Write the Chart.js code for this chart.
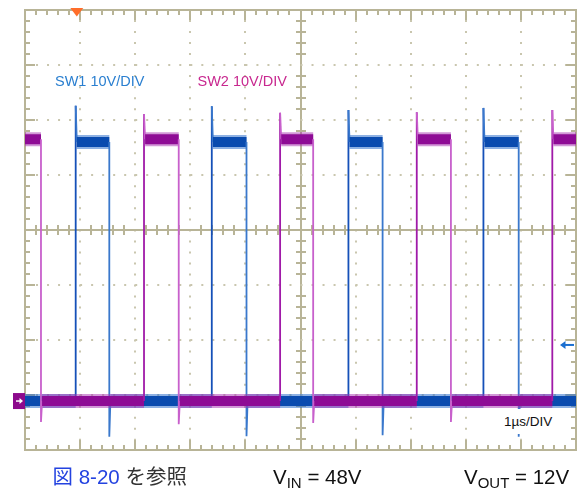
<!DOCTYPE html>
<html><head><meta charset="utf-8">
<script src="https://cdn.jsdelivr.net/npm/chart.js@4.4.1/dist/chart.umd.min.js"></script>
<style>
html,body{margin:0;padding:0;background:#fff;}
#wrap{position:relative;width:582px;height:489px;overflow:hidden;font-family:"Liberation Sans",Arial,sans-serif;}
#c{position:absolute;left:0;top:0;}
.lbl{position:absolute;white-space:nowrap;line-height:1;}
.sub{font-size:15px;vertical-align:-3.5px;}
</style></head><body>
<div id="wrap">
<canvas id="c" width="582" height="489"></canvas>
<div class="lbl" style="left:55px;top:74px;font-size:14.5px;color:#2a7fd0">SW1 10V/DIV</div>
<div class="lbl" style="left:197.5px;top:74px;font-size:14.5px;color:#c8288f">SW2 10V/DIV</div>
<div class="lbl" style="left:500px;top:409px;width:60px;height:25px;background:#fff;"></div>
<div class="lbl" style="left:504px;top:415px;font-size:13.5px;color:#111">1µs/DIV</div>
<div class="lbl" style="left:52.5px;top:466.5px;font-size:20.5px;font-family:'Liberation Sans','Noto Sans CJK JP',sans-serif;"><span style="color:#2443e0">図 8-20</span> <span style="color:#333">を参照</span></div>
<div class="lbl" style="left:273px;top:466.5px;font-size:20.5px;color:#111">V<span class="sub">IN</span> = 48V</div>
<div class="lbl" style="left:464px;top:466.5px;font-size:20.5px;color:#111">V<span class="sub">OUT</span> = 12V</div>
</div>
<script>
// time in microseconds (1 µs/div), voltage in volts (10 V/div)
const sw1T = [0, 0.92, 0.92, 0.94, 1.53, 1.53, 1.55, 3.39, 3.39, 3.41, 4.02, 4.02, 4.04, 5.87, 5.87, 5.89, 6.49, 6.49, 6.51, 8.32, 8.32, 8.34, 8.96, 8.96, 8.98, 10];
const sw1V = [0, 0, 53.7, 47.1, 47.1, -6.5, 0, 0, 53.6, 47.1, 47.1, -6.4, 0, 0, 52.9, 47.1, 47.1, -6.2, 0, 0, 53.3, 47.1, 47.1, -6.5, 0, 0];
const sw2T = [0, 0.29, 0.29, 0.31, 2.16, 2.16, 2.18, 2.79, 2.79, 2.81, 4.63, 4.63, 4.65, 5.23, 5.23, 5.25, 7.11, 7.11, 7.13, 7.73, 7.73, 7.75, 9.57, 9.57, 9.59, 10];
const sw2V = [47.6, 47.6, -3.8, 0, 0, 52.2, 47.6, 47.6, -4.2, 0, 0, 52.4, 47.6, 47.6, -4.0, 0, 0, 52.5, 47.6, 47.6, -3.8, 0, 0, 52.9, 47.6, 47.6];
const timeDivs = [0, 10];      // µs range of the screen
const voltRange = [-8.9, 71.1]; // volts range of the screen (ground 0.89 div above bottom)
const vertDivs = [0, 8];
const triggerT = 0.94;
const trigLevelV = 10.2;

const toPts = (t, v) => t.map((x, i) => ({x: x, y: v[i]}));
const isEdge = c => Math.abs(c.p1.parsed.x - c.p0.parsed.x) < 0.05;
const isRise = c => c.p1.parsed.y > c.p0.parsed.y + 10;

const tan = '#b8b497', dot = '#c9c6ae';

const graticule = {
  id: 'graticule',
  beforeDatasetsDraw(chart) {
    const {ctx, chartArea: a, scales} = chart;
    const x = scales.x, y = scales.y;
    const cx = Math.round(x.getPixelForValue(5)), cy = Math.round(y.getPixelForValue(4));
    ctx.save();
    ctx.strokeStyle = tan; ctx.lineWidth = 2;
    ctx.beginPath();
    for (let i = 1; i < 50; i++) {
      const px = Math.round(x.getPixelForValue(i / 5));
      const major = i % 5 === 0, L = major ? 10 : 5;
      ctx.moveTo(px, a.top); ctx.lineTo(px, a.top + L);
      ctx.moveTo(px, a.bottom); ctx.lineTo(px, a.bottom - L);
      if (!major) { ctx.moveTo(px, cy - 5); ctx.lineTo(px, cy + 5); }
    }
    for (let i = 1; i < 40; i++) {
      const py = Math.round(y.getPixelForValue(i / 5));
      const major = i % 5 === 0, L = major ? 10 : 5;
      ctx.moveTo(a.left, py); ctx.lineTo(a.left + L, py);
      ctx.moveTo(a.right, py); ctx.lineTo(a.right - L, py);
      if (!major) { ctx.moveTo(cx - 5, py); ctx.lineTo(cx + 5, py); }
    }
    ctx.stroke();
    ctx.restore();
  },
  afterDatasetsDraw(chart) {
    const {ctx, chartArea: a, scales} = chart;
    ctx.save();
    // trigger position marker (orange)
    const tx = scales.x.getPixelForValue(triggerT);
    ctx.fillStyle = '#ff6d2a';
    ctx.beginPath();
    ctx.moveTo(tx - 6.5, a.top - 2); ctx.lineTo(tx + 6.5, a.top - 2); ctx.lineTo(tx, a.top + 6.5); ctx.closePath();
    ctx.fill();
    // ground marker (CH2 purple)
    const gy = scales.v.getPixelForValue(0);
    ctx.fillStyle = '#8c0a8c';
    ctx.fillRect(a.left - 12, gy - 8, 12, 16);
    ctx.strokeStyle = '#fff'; ctx.fillStyle = '#fff'; ctx.lineWidth = 1.5;
    ctx.beginPath(); ctx.moveTo(a.left - 9, gy); ctx.lineTo(a.left - 4, gy); ctx.stroke();
    ctx.beginPath(); ctx.moveTo(a.left - 2, gy); ctx.lineTo(a.left - 5.5, gy - 3); ctx.lineTo(a.left - 5.5, gy + 3); ctx.closePath(); ctx.fill();
    // trigger level arrow (blue)
    const ly = scales.v.getPixelForValue(trigLevelV);
    ctx.strokeStyle = '#1a6fd0'; ctx.fillStyle = '#1a6fd0'; ctx.lineWidth = 2;
    ctx.beginPath(); ctx.moveTo(a.right - 2, ly); ctx.lineTo(a.right - 12, ly); ctx.stroke();
    ctx.beginPath(); ctx.moveTo(a.right - 16, ly); ctx.lineTo(a.right - 10.5, ly - 4); ctx.lineTo(a.right - 10.5, ly + 4); ctx.closePath(); ctx.fill();
    ctx.restore();
  }
};

const gridDash = (center) => (c) => (c.tick && c.tick.value === center) ? [] : [2, 9.02];

function trace(label, t, v, band, halo, riseCol, fallCol, w, hw, order) {
  return [
    {
      label: label, data: toPts(t, v), xAxisID: 'x', yAxisID: 'v', order: order,
      borderColor: band, borderWidth: w, pointRadius: 0, tension: 0,
      borderCapStyle: 'butt', borderJoinStyle: 'bevel',
      segment: {
        borderWidth: c => isEdge(c) ? 1.8 : w,
        borderColor: c => isEdge(c) ? (isRise(c) ? riseCol : fallCol) : band
      }
    },
    {
      label: label + ' noise', data: toPts(t, v), xAxisID: 'x', yAxisID: 'v', order: order + 1,
      borderColor: halo, borderWidth: hw, pointRadius: 0, tension: 0,
      borderCapStyle: 'butt', borderJoinStyle: 'bevel',
      segment: {
        borderWidth: c => isEdge(c) ? 0 : hw,
        borderColor: c => isEdge(c) ? 'rgba(0,0,0,0)' : halo
      }
    }
  ];
}

new Chart(document.getElementById('c'), {
  type: 'line',
  data: {
    datasets: [
      ...trace('SW2', sw2T, sw2V, '#8e0b95', 'rgba(165,50,175,0.5)', '#a01aa8', '#c860cc', 10, 14, 0),
      ...trace('SW1', sw1T, sw1V, '#0a4baf', 'rgba(30,100,200,0.5)', '#1550b8', '#3a78cc', 10, 14, 2)
    ]
  },
  options: {
    responsive: false,
    animation: false,
    events: [],
    layout: {padding: {left: 25, right: 6, top: 10, bottom: 39}},
    plugins: {legend: {display: false}, tooltip: {enabled: false}},
    scales: {
      x: {
        type: 'linear', position: 'bottom', min: timeDivs[0], max: timeDivs[1],
        ticks: {display: false, stepSize: 1},
        grid: {display: true, drawTicks: false, lineWidth: 2,
               color: c => (c.tick && c.tick.value === 5) ? tan : dot},
        border: {display: true, color: tan, width: 2, dash: gridDash(5), dashOffset: 1}
      },
      y: {
        type: 'linear', position: 'left', min: vertDivs[0], max: vertDivs[1],
        ticks: {display: false, stepSize: 1},
        grid: {display: true, drawTicks: false, lineWidth: 2,
               color: c => (c.tick && c.tick.value === 4) ? tan : dot},
        border: {display: true, color: tan, width: 2, dash: gridDash(4), dashOffset: 1}
      },
      xTop: {
        type: 'linear', position: 'top', min: timeDivs[0], max: timeDivs[1],
        ticks: {display: false}, grid: {display: false, drawTicks: false},
        border: {display: true, color: tan, width: 2}
      },
      yRight: {
        type: 'linear', position: 'right', min: vertDivs[0], max: vertDivs[1],
        ticks: {display: false}, grid: {display: false, drawTicks: false},
        border: {display: true, color: tan, width: 2}
      },
      v: {
        type: 'linear', display: false, min: voltRange[0], max: voltRange[1]
      }
    }
  },
  plugins: [graticule]
});
</script>
</body></html>
